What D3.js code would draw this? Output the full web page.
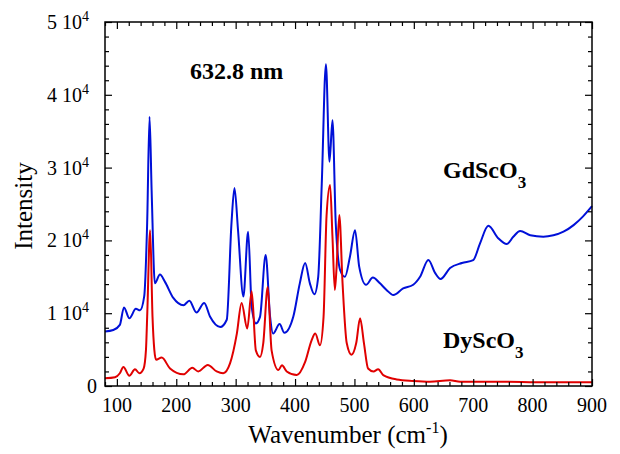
<!DOCTYPE html>
<html>
<head>
<meta charset="utf-8">
<script src="https://cdn.jsdelivr.net/npm/d3@7"></script>
<style>
  html, body { margin: 0; padding: 0; background: #fff; }
  svg { display: block; }
  text { font-family: "Liberation Serif", "Times New Roman", serif; fill: #000; }
</style>
</head>
<body>
<svg id="chart" width="620" height="454"></svg>
<script>
// ---- Data ----
const gdWavenumber = [80, 94, 105, 112, 121, 132, 139, 146, 151, 155, 158.5, 164, 172.5, 181, 195, 212, 222, 234, 247, 257, 274, 285, 293, 298, 304, 313, 321, 327, 334, 341, 350.5, 358, 363, 374, 382, 397, 408, 417, 425, 432.5, 439, 445, 452, 458, 463, 468.5, 476, 484, 492.5, 501, 508, 519.5, 531, 543, 554, 565.5, 582, 599, 610.5, 624.5, 636, 645, 661, 681, 700, 711.5, 725.5, 742, 756.5, 767.5, 779, 796, 818, 835, 852, 869, 885, 900];
const gdIntensity = [7500, 7700, 8400, 10800, 9300, 10600, 10400, 12300, 22400, 37000, 26900, 14100, 15300, 14300, 12100, 11100, 11700, 10100, 11400, 9500, 8100, 9100, 22400, 27200, 21400, 12300, 21200, 10900, 8600, 9500, 18000, 9500, 7200, 8500, 7300, 9500, 14100, 16900, 14100, 12600, 15000, 27800, 44200, 30800, 36500, 22400, 15900, 15000, 17800, 21400, 16400, 13900, 14900, 14100, 13200, 12500, 13400, 13900, 15000, 17300, 15500, 14700, 16200, 16900, 17300, 19600, 22000, 20300, 19500, 20500, 21300, 20700, 20500, 20700, 21200, 22100, 23300, 24700];

const dyWavenumber = [80, 97, 105, 111, 121, 130.5, 138, 145, 149, 151, 156, 160, 163, 166, 175.5, 189.5, 212, 227, 237, 253, 268, 279, 290.5, 302, 310, 319.5, 327, 334, 341, 346.5, 354, 360.5, 372, 378, 386, 403, 417, 428, 434, 442, 448, 453, 459, 463, 467, 470, 474.5, 480, 487, 495, 503, 509.5, 516, 523, 532, 540, 548.5, 571, 599, 627, 661, 678, 740, 824, 900];
const dyIntensity = [1050, 1200, 1750, 2600, 1400, 2300, 1750, 2400, 5000, 9500, 21400, 9500, 5000, 3600, 3900, 2400, 1600, 2500, 2000, 2900, 2000, 1750, 3100, 7200, 11400, 7900, 13000, 4900, 4000, 5900, 13600, 4900, 2200, 2850, 2000, 1500, 3300, 6300, 7200, 5600, 9500, 23300, 27600, 20500, 13200, 16400, 23500, 14100, 5900, 4300, 5900, 9300, 5900, 2400, 2000, 2300, 1500, 900, 700, 600, 800, 600, 600, 500, 500];

const xMajorTicks = [100, 200, 300, 400, 500, 600, 700, 800, 900];
const yMajorTicks = [0, 10000, 20000, 30000, 40000, 50000];
const yTickMantissa = ["0", "1", "2", "3", "4", "5"];

// ---- Layout ----
const svg = d3.select("#chart");
const mLeft = 105, mRight = 592, mTop = 22, mBottom = 386;

const x = d3.scaleLinear().domain([80, 900]).range([mLeft, mRight]);
const y = d3.scaleLinear().domain([0, 50000]).range([mBottom, mTop]);

const xMinor = d3.range(80, 901, 20).filter(v => v % 100 !== 0);
const yMinor = d3.range(0, 50001, 2000).filter(v => v % 10000 !== 0);

// ---- Lines ----
const line = d3.line()
  .x(d => x(d[0]))
  .y(d => y(d[1]))
  .curve(d3.curveMonotoneX);

const plot = svg.append("g");
plot.append("path")
  .datum(gdWavenumber.map((w, i) => [w, gdIntensity[i]]))
  .attr("d", line)
  .attr("fill", "none")
  .attr("stroke", "#0010d8")
  .attr("stroke-width", 2)
  .attr("stroke-linejoin", "round");

plot.append("path")
  .datum(dyWavenumber.map((w, i) => [w, dyIntensity[i]]))
  .attr("d", line)
  .attr("fill", "none")
  .attr("stroke", "#e00000")
  .attr("stroke-width", 2)
  .attr("stroke-linejoin", "round");

// ---- Axes (ticks inward on all four sides) ----
const majorLen = 7, minorLen = 4;
function styleAxis(g) {
  g.select(".domain").remove();
  g.selectAll(".tick line").attr("stroke", "#000").attr("stroke-width", 1.2);
  g.selectAll(".tick text").remove();
}
svg.append("g").attr("transform", `translate(0,${mBottom})`)
  .call(d3.axisBottom(x).tickValues(xMajorTicks).tickSize(-majorLen)).call(styleAxis);
svg.append("g").attr("transform", `translate(0,${mBottom})`)
  .call(d3.axisBottom(x).tickValues(xMinor).tickSize(-minorLen)).call(styleAxis);
svg.append("g").attr("transform", `translate(0,${mTop})`)
  .call(d3.axisTop(x).tickValues(xMajorTicks).tickSize(-majorLen)).call(styleAxis);
svg.append("g").attr("transform", `translate(0,${mTop})`)
  .call(d3.axisTop(x).tickValues(xMinor).tickSize(-minorLen)).call(styleAxis);
svg.append("g").attr("transform", `translate(${mLeft},0)`)
  .call(d3.axisLeft(y).tickValues(yMajorTicks).tickSize(-majorLen)).call(styleAxis);
svg.append("g").attr("transform", `translate(${mLeft},0)`)
  .call(d3.axisLeft(y).tickValues(yMinor).tickSize(-minorLen)).call(styleAxis);
svg.append("g").attr("transform", `translate(${mRight},0)`)
  .call(d3.axisRight(y).tickValues(yMajorTicks).tickSize(-majorLen)).call(styleAxis);
svg.append("g").attr("transform", `translate(${mRight},0)`)
  .call(d3.axisRight(y).tickValues(yMinor).tickSize(-minorLen)).call(styleAxis);

svg.append("rect")
  .attr("x", mLeft).attr("y", mTop)
  .attr("width", mRight - mLeft).attr("height", mBottom - mTop)
  .attr("fill", "none").attr("stroke", "#000").attr("stroke-width", 1.5);

// ---- Tick labels ----
svg.append("g").selectAll("text")
  .data(xMajorTicks)
  .join("text")
  .attr("x", d => x(d))
  .attr("y", mBottom + 26)
  .attr("text-anchor", "middle")
  .attr("font-size", 20)
  .text(d => d);

const yl = svg.append("g");
yMajorTicks.forEach((v, i) => {
  const t = yl.append("text")
    .attr("y", y(v) + 7)
    .attr("font-size", 20)
    .attr("text-anchor", "end");
  if (v === 0) {
    t.attr("x", 97).text(yTickMantissa[i]);
  } else {
    t.attr("x", 89);
    t.append("tspan").text(yTickMantissa[i] + " 10");
    t.append("tspan").attr("font-size", 14).attr("dy", -8).text("4");
  }
});

// ---- Axis titles ----
const xt = svg.append("text")
  .attr("x", 348).attr("y", 443)
  .attr("text-anchor", "middle")
  .attr("font-size", 25);
xt.append("tspan").text("Wavenumber (cm");
xt.append("tspan").attr("font-size", 16).attr("dy", -10).text("-1");
xt.append("tspan").attr("dy", 10).text(")");

svg.append("text")
  .attr("transform", "translate(32,206) rotate(-90)")
  .attr("text-anchor", "middle")
  .attr("font-size", 25)
  .text("Intensity");

// ---- Annotations ----
svg.append("text")
  .attr("x", 190).attr("y", 79)
  .attr("font-size", 24).attr("font-weight", "bold")
  .text("632.8 nm");

const gd = svg.append("text")
  .attr("x", 443).attr("y", 178)
  .attr("font-size", 24).attr("font-weight", "bold");
gd.append("tspan").text("GdScO");
gd.append("tspan").attr("font-size", 17).attr("dy", 10).text("3");

const dys = svg.append("text")
  .attr("x", 443).attr("y", 348)
  .attr("font-size", 24).attr("font-weight", "bold");
dys.append("tspan").text("DyScO");
dys.append("tspan").attr("font-size", 17).attr("dy", 10).text("3");
</script>
</body>
</html>
